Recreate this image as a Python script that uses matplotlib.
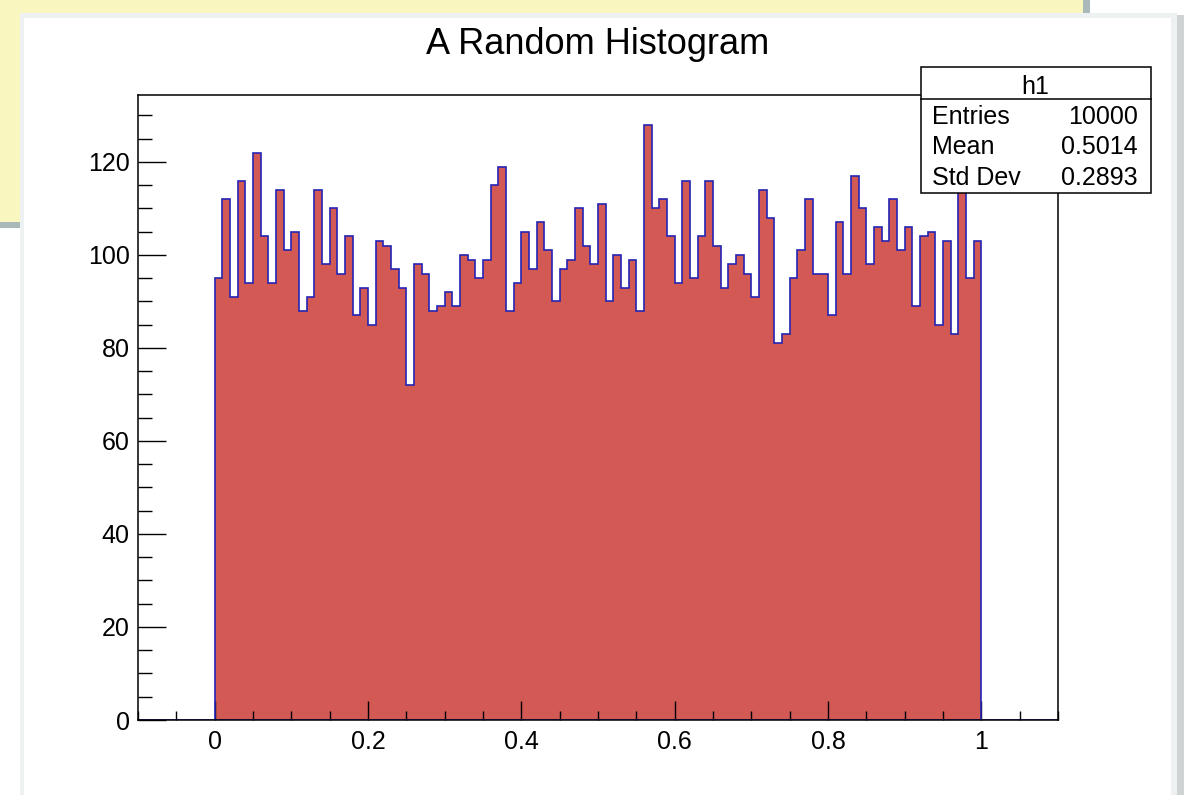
import numpy as np
import matplotlib.pyplot as plt
from matplotlib.patches import Rectangle
from matplotlib.ticker import MultipleLocator

plt.rcParams['font.family'] = ['Liberation Sans', 'DejaVu Sans']

# bin contents, 100 bins on [0, 1]
counts = [95, 112, 91, 116, 94, 122, 104, 94, 114, 101,
          105, 88, 91, 114, 98, 110, 96, 104, 87, 93,
          85, 103, 102, 97, 93, 72, 98, 96, 88, 89,
          92, 89, 100, 99, 95, 99, 115, 119, 88, 94,
          105, 97, 107, 101, 90, 97, 99, 110, 102, 98,
          111, 90, 100, 93, 99, 88, 128, 110, 112, 104,
          94, 116, 95, 104, 116, 102, 93, 98, 100, 96,
          91, 114, 108, 81, 83, 95, 101, 112, 96, 96,
          87, 107, 96, 117, 110, 98, 106, 103, 112, 101,
          106, 89, 104, 105, 85, 103, 83, 116, 95, 103]
edges = np.linspace(0, 1, len(counts) + 1)

title = "A Random Histogram"
stat_names = ["Entries", "Mean", "Std Dev"]
stat_values = ["10000", "0.5014", "0.2893"]

W, H = 1184, 795
def fx(x):
    return x / W
def fy(y):
    return 1 - y / H

fig = plt.figure(figsize=(W / 100, H / 100), dpi=100)
fig.patch.set_facecolor('white')

# window background behind the canvas
fig.add_artist(Rectangle((fx(0), fy(228)), fx(1090), 228 / H, transform=fig.transFigure,
                         facecolor='#a9b8b9', edgecolor='none', zorder=-12))
fig.add_artist(Rectangle((fx(0), fy(222)), fx(1083), 222 / H, transform=fig.transFigure,
                         facecolor='#faf6c0', edgecolor='none', zorder=-11))
# canvas + shadow
fig.add_artist(Rectangle((fx(22), fy(795)), fx(1162), 780 / H, transform=fig.transFigure,
                         facecolor='#cfd3d3', edgecolor='none', zorder=-10))
fig.add_artist(Rectangle((fx(20), fy(795)), fx(1157), 782 / H, transform=fig.transFigure,
                         facecolor='#eef1f1', edgecolor='none', zorder=-9))
fig.add_artist(Rectangle((fx(24), fy(795)), fx(1147), 777 / H, transform=fig.transFigure,
                         facecolor='white', edgecolor='none', zorder=-8))

ax = fig.add_axes([fx(138), fy(720), fx(1058) - fx(138), (720 - 95) / H])
ax.set_facecolor('none')

ax.stairs(counts, edges, fill=True, color='#d35954', zorder=1)
ax.stairs(counts, edges, color='#2424b4', linewidth=1.2, zorder=2)
ax.axhline(0, color='#2424b4', linewidth=1.2, zorder=2)

ax.set_xlim(-0.1, 1.1)
ax.set_ylim(0, max(counts) * 1.05)

ax.xaxis.set_major_locator(MultipleLocator(0.2))
ax.xaxis.set_minor_locator(MultipleLocator(0.05))
ax.yaxis.set_major_locator(MultipleLocator(20))
ax.yaxis.set_minor_locator(MultipleLocator(5))
ax.xaxis.set_major_formatter(plt.FuncFormatter(lambda v, p: f"{v:g}"))

ax.tick_params(axis='both', which='both', direction='in', top=False, right=False,
               labelsize=18, colors='black', width=1.0)
ax.tick_params(axis='x', which='major', length=14, pad=7)
ax.tick_params(axis='x', which='minor', length=6.5)
ax.tick_params(axis='y', which='major', length=20, pad=6)
ax.tick_params(axis='y', which='minor', length=10)
for s in ax.spines.values():
    s.set_linewidth(1.1)
    s.set_zorder(3)

fig.text(fx(598), fy(54), title, ha='center', va='baseline', fontsize=26)

# stats box
bx0, bx1, by0, by1 = 921, 1151, 67, 193
fig.add_artist(Rectangle((fx(bx0), fy(by1)), (bx1 - bx0) / W, (by1 - by0) / H,
                         transform=fig.transFigure, facecolor='white',
                         edgecolor='black', linewidth=1.1, zorder=5))
fig.add_artist(plt.Line2D([fx(bx0), fx(bx1)], [fy(99), fy(99)], transform=fig.transFigure,
                          color='black', linewidth=1.1, zorder=6))
fig.text(fx(1035), fy(94), "h1", ha='center', va='baseline', fontsize=18, zorder=7)
for i, (n, v) in enumerate(zip(stat_names, stat_values)):
    base = 123.5 + i * 30.8
    fig.text(fx(932), fy(base), n, ha='left', va='baseline', fontsize=18, zorder=7)
    fig.text(fx(1138), fy(base), v, ha='right', va='baseline', fontsize=18, zorder=7)

fig.savefig('out.png', dpi=100)
